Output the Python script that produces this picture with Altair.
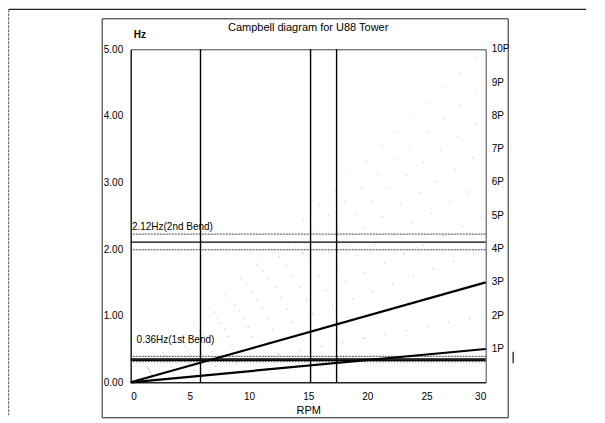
import altair as alt
import pandas as pd

# ---- data ----
rpm_ends = [0, 30]
p_orders = [1, 3]                      # bold excitation lines
faint_orders = [2, 4, 5, 6, 7, 8, 9, 10]
rpm_marks = [5.9, 15.2, 17.4]          # vertical speed lines
freq_solid = [2.105, 0.35, 0.33]       # tower natural frequencies (solid)
freq_dotted = [2.225, 1.99, 0.39, 0.31]  # +/- band (dotted)
labels_text = ["2.12Hz(2nd Bend)", "0.36Hz(1st Bend)"]
labels_hz = [2.25, 0.56]
labels_rpm = [0.1, 0.5]
p_labels = ["1P", "2P", "3P", "4P", "5P", "6P", "7P", "8P", "9P", "10P"]
p_hz = [0.5, 1.0, 1.5, 2.0, 2.5, 3.0, 3.5, 4.0, 4.5, 5.0]
x_ticks = [0, 5, 10, 15, 20, 25, 30]
y_ticks = [0, 1, 2, 3, 4, 5]
title_text = "Campbell diagram for U88 Tower"

W, H = 355, 333
FONT = "Liberation Sans"

xs = alt.Scale(domain=[0, 30], nice=False, zero=False)
ys = alt.Scale(domain=[0, 5], nice=False, zero=False)

def p_df(orders):
    rows = []
    for n in orders:
        for r in rpm_ends:
            rows.append({"order": n, "rpm": r, "hz": n * r / 60.0})
    return pd.DataFrame(rows)

base_x = alt.X("rpm:Q", scale=xs,
               axis=alt.Axis(values=x_ticks, title="RPM", grid=False, ticks=False,
                             domainColor="black", labelFont=FONT, labelFontSize=10,
                             labelColor="black", titleFont=FONT, titleFontSize=11,
                             titleFontWeight="normal", titleColor="black",
                             labelPadding=9, titlePadding=3))
base_y = alt.Y("hz:Q", scale=ys,
               axis=alt.Axis(values=y_ticks, format=".2f", title=None, grid=False,
                             ticks=False, domainColor="black", labelFont=FONT,
                             labelFontSize=10, labelColor="black", labelPadding=8))

faint = alt.Chart(p_df(faint_orders)).mark_line(
    color="#999999", strokeWidth=1, strokeDash=[1.5, 20], opacity=0.6
).encode(x=base_x, y=base_y, detail="order:N")

bold = alt.Chart(p_df(p_orders)).mark_line(color="black", strokeWidth=2.2).encode(
    x=base_x, y=base_y, detail="order:N")

vlines = alt.Chart(pd.DataFrame({"rpm": rpm_marks})).mark_rule(
    color="black", strokeWidth=1.4).encode(x=alt.X("rpm:Q", scale=xs))

hsolid = alt.Chart(pd.DataFrame({"hz": freq_solid})).mark_rule(
    color="black", strokeWidth=1.4).encode(y=alt.Y("hz:Q", scale=ys))

hdot = alt.Chart(pd.DataFrame({"hz": freq_dotted})).mark_rule(
    color="#444444", strokeWidth=1, strokeDash=[2, 1]).encode(y=alt.Y("hz:Q", scale=ys))

lbl = alt.Chart(pd.DataFrame({"rpm": labels_rpm, "hz": labels_hz, "t": labels_text})).mark_text(
    align="left", baseline="bottom", font=FONT, fontSize=10, color="black"
).encode(x=alt.X("rpm:Q", scale=xs), y=alt.Y("hz:Q", scale=ys), text="t:N")

plbl = alt.Chart(pd.DataFrame({"hz": p_hz, "t": p_labels})).mark_text(
    align="left", baseline="middle", font=FONT, fontSize=10, color="black"
).encode(x=alt.value(W + 6), y=alt.Y("hz:Q", scale=ys), text="t:N")

one = pd.DataFrame({"k": [0]})
hz_t = alt.Chart(one).mark_text(
    align="left", baseline="middle", font=FONT, fontSize=10, fontWeight="bold", color="black"
).encode(x=alt.value(3), y=alt.value(-14), text=alt.value("Hz"))

title_t = alt.Chart(one).mark_text(
    align="center", baseline="middle", font=FONT, fontSize=11, color="black"
).encode(x=alt.value(W / 2), y=alt.value(-21), text=alt.value(title_text))

# outer chart frame (four edges) and page edge lines
edge_style = dict(color="#222222", strokeWidth=1)
f_left = alt.Chart(one).mark_rule(**edge_style).encode(
    x=alt.value(-28.5), y=alt.value(-30.5), y2=alt.value(368.5))
f_right = alt.Chart(one).mark_rule(**edge_style).encode(
    x=alt.value(377.5), y=alt.value(-30.5), y2=alt.value(368.5))
f_top = alt.Chart(one).mark_rule(**edge_style).encode(
    x=alt.value(-28.5), x2=alt.value(377.5), y=alt.value(-30.5))
f_bottom = alt.Chart(one).mark_rule(**edge_style).encode(
    x=alt.value(-28.5), x2=alt.value(377.5), y=alt.value(368.5))
page_top = alt.Chart(one).mark_rule(color="#222222", strokeWidth=1.2).encode(
    x=alt.value(-122), x2=alt.value(470), y=alt.value(-40))
page_left = alt.Chart(one).mark_rule(color="#555555", strokeWidth=1, strokeDash=[3, 1]).encode(
    x=alt.value(-122), y=alt.value(-40), y2=alt.value(366))
tick_mark = alt.Chart(one).mark_rule(color="#444444", strokeWidth=1.5).encode(
    x=alt.value(382.5), y=alt.value(302.5), y2=alt.value(314))

chart = alt.layer(
    faint, hdot, hsolid, vlines, bold, lbl, plbl, hz_t, title_t,
    f_left, f_right, f_top, f_bottom, page_top, page_left, tick_mark
).properties(
    width=W, height=H,
    autosize=alt.AutoSizeParams(type="none"),
    padding={"left": 122.7, "top": 41.3, "right": 100, "bottom": 40},
).configure_view(stroke="#444444", strokeWidth=1)

chart.save("out.html", embed_options={"renderer": "svg", "actions": False})
